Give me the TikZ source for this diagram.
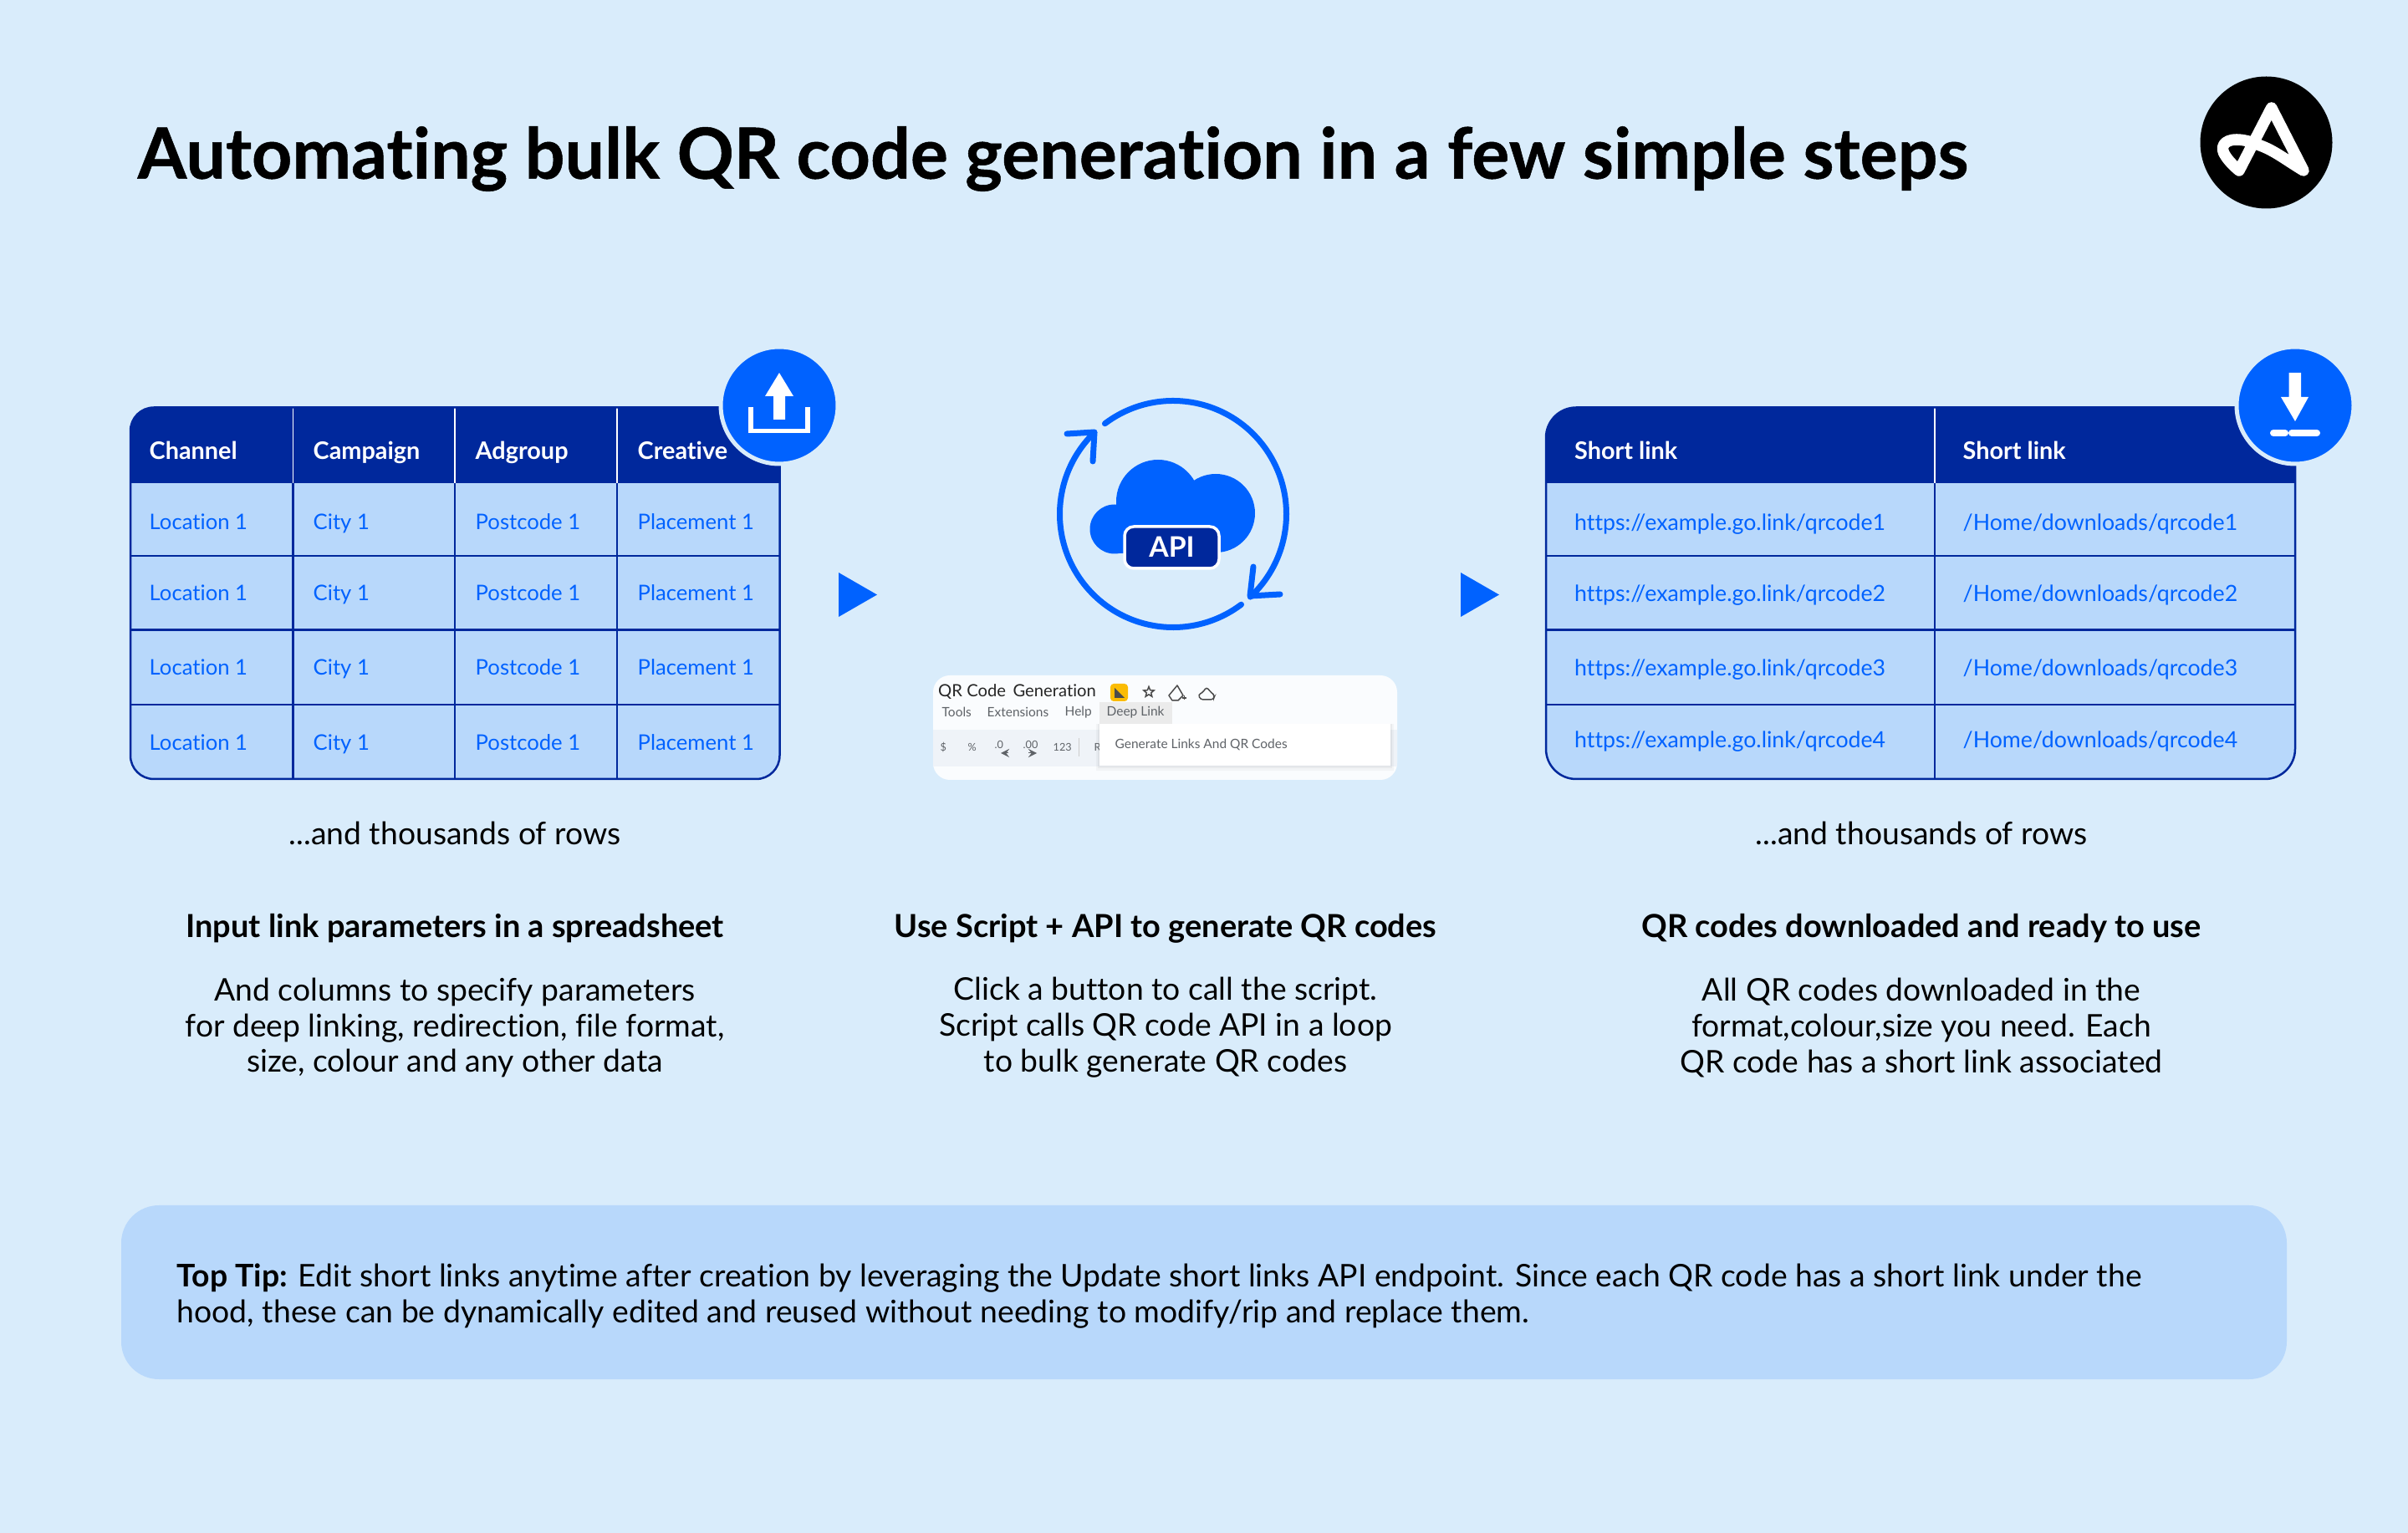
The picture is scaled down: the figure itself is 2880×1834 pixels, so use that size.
\documentclass[tikz,border=0pt]{standalone}
\usepackage{fontspec}
\setmainfont{Lato}[Ligatures=NoCommon]
\newfontfamily\headfont{Lato}[Ligatures=NoCommon,BoldFeatures={FakeBold=0.6}]
\usetikzlibrary{shapes.geometric}
\definecolor{mybg}{HTML}{D9ECFB}
\definecolor{mycell}{HTML}{B8D8FB}
\definecolor{mynavy}{HTML}{00289C}
\definecolor{myblue}{HTML}{0062FF}
\definecolor{mycard}{HTML}{FAFCFE}
\definecolor{mybar}{HTML}{EFF3F8}
\definecolor{mygrey}{HTML}{5F6368}
\definecolor{myyellow}{HTML}{FBBC04}

\begin{document}
\begin{tikzpicture}
    [x=0.01cm,y=-0.01cm,
     hdr/.style={anchor=west,text=white,font=\fontsize{8.2}{9}\selectfont\bfseries,inner sep=0,text height=7pt,text depth=1.5pt},
     cell/.style={anchor=west,text=myblue,font=\fontsize{7.3}{9}\selectfont,inner sep=0,text height=6.5pt,text depth=1.5pt},
     link/.style={cell,font=\fontsize{7.6}{9}\selectfont},
     txt/.style={align=center,text=black,font=\fontsize{10.6}{12.2}\selectfont,inner sep=0},
     sub/.style={align=center,text=black,font=\fontsize{10.8}{12.2}\selectfont\bfseries,inner sep=0},
     menu/.style={anchor=west,text=mygrey,font=\fontsize{4.4}{5}\selectfont,inner sep=0},
     tiny/.style={menu,font=\fontsize{3.6}{4}\selectfont},
     gridline/.style={mynavy,line width=0.025cm},
     headline/.style={white,line width=0.015cm},
     badge/.style={myblue,draw=mybg,line width=0.05cm}]

    \useasboundingbox (0,0) rectangle (2880,1834);
    \fill[mybg] (0,0) rectangle (2880,1834);

    \node[anchor=west,inner sep=0,text=black,font=\headfont\fontsize{23.98}{26}\selectfont\bfseries] (title) at (164,190)
        {Automating bulk QR code generation in a few simple steps};

    % logo
    \fill[black] (2710.5,170.5) circle (79);
    \draw[white,line width=0.135cm,line join=round,line cap=round]
        (2716.7,129) -- (2755,204) .. controls (2735,192) and (2720,180) .. (2703,174)
        .. controls (2692,169) and (2682,167) .. (2675,167)
        .. controls (2660,167) and (2654,176) .. (2662,187)
        .. controls (2666,193) and (2672,199) .. (2678,204) -- cycle;

    % left table
    \begin{scope}
        \clip[rounded corners=0.28cm] (156,487.5) rectangle (932.5,932);
        \fill[mycell] (156,487.5) rectangle (932.5,932);
        \fill[mynavy] (156,487.5) rectangle (932.5,578);
        \draw[headline] (350.4,487.5) -- (350.4,578);
        \draw[headline] (544,487.5) -- (544,578);
        \draw[headline] (738,487.5) -- (738,578);
        \draw[gridline] (350.4,578) -- (350.4,932);
        \draw[gridline] (544,578) -- (544,932);
        \draw[gridline] (738,578) -- (738,932);
        \draw[gridline] (156,665) -- (932.5,665);
        \draw[gridline] (156,753.6) -- (932.5,753.6);
        \draw[gridline] (156,843) -- (932.5,843);
    \end{scope}
    \draw[gridline,rounded corners=0.28cm] (156,487.5) rectangle (932.5,932);

    \node[hdr] (chan) at (178,539.5) {Channel};
    \node[hdr] (camp) at (374,539.5) {Campaign};
    \node[hdr] (adgr) at (568,539.5) {Adgroup};
    \node[hdr] (crea) at (762,539.5) {Creative};

    \node[cell] (loc1) at (178,625) {Location 1};
    \node[cell] (cit1) at (374,625) {City 1};
    \node[cell] (pos1) at (568,625) {Postcode 1};
    \node[cell] (pla1) at (762,625) {Placement 1};
    \node[cell] (loc2) at (178,710) {Location 1};
    \node[cell] (cit2) at (374,710) {City 1};
    \node[cell] (pos2) at (568,710) {Postcode 1};
    \node[cell] (pla2) at (762,710) {Placement 1};
    \node[cell] (loc3) at (178,799) {Location 1};
    \node[cell] (cit3) at (374,799) {City 1};
    \node[cell] (pos3) at (568,799) {Postcode 1};
    \node[cell] (pla3) at (762,799) {Placement 1};
    \node[cell] (loc4) at (178,888.5) {Location 1};
    \node[cell] (cit4) at (374,888.5) {City 1};
    \node[cell] (pos4) at (568,888.5) {Postcode 1};
    \node[cell] (pla4) at (762,888.5) {Placement 1};

    % upload badge
    \filldraw[badge] (932,485) circle (70);
    \fill[white] (932,446) -- (949,474) -- (939,474) -- (939,502) -- (925,502) -- (925,474) -- (915,474) -- cycle;
    \draw[white,line width=0.055cm] (898,487.5) -- (898,515.5) -- (966,515.5) -- (966,487.5);

    % first play arrow
    \fill[myblue] (1003,685) -- (1049,711.5) -- (1003,738) -- cycle;

    % cloud and loop
    \draw[myblue,line width=0.07cm,line cap=round] (1403,615) ++(-127:135.5) arc (-127:47:135.5);
    \draw[myblue,line width=0.07cm,line cap=round] (1403,615) ++(53:135.5) arc (53:226:135.5);
    \draw[myblue,line width=0.07cm,line cap=round,line join=round] (1499,678) -- (1495,713) -- (1531,711);
    \draw[myblue,line width=0.07cm,line cap=round,line join=round] (1276,519) -- (1309,517) -- (1307,552);
    \fill[myblue] (1333,633) circle (29.5);
    \fill[myblue] (1385,600) circle (50);
    \fill[myblue] (1454,614) circle (47);
    \fill[myblue] (1333,620) rectangle (1460,662.5);
    \filldraw[fill=mynavy,draw=white,line width=0.035cm,rounded corners=0.11cm] (1345,630) rectangle (1458,680);
    \node[inner sep=0,text=white,font=\fontsize{9.6}{10}\selectfont\bfseries] (api) at (1401.5,654.5) {API};

    % sheet screenshot
    \fill[mycard,rounded corners=0.2cm] (1116,808) rectangle (1671,933);
    \fill[mybar] (1116,873) rectangle (1671,917);
    \fill[black!8] (1314.5,840) rectangle (1401.5,866);
    \fill[black,opacity=0.03] (1310.5,866) rectangle (1666.5,922);
    \fill[black,opacity=0.04] (1312.5,866) rectangle (1664.5,919);
    \fill[white] (1314.5,866) rectangle (1662.5,916);

    \node[anchor=west,inner sep=0,text=black!85,font=\fontsize{5.75}{7}\selectfont] (sheet) at (1121.5,828) {QR Code\, Generation};
    \node[menu] (tools) at (1126,852) {Tools};
    \node[menu] (exts) at (1180,852) {Extensions};
    \node[menu] (help) at (1273,852) {Help};
    \node[menu] (deep) at (1323,852) {Deep Link};
    \node[menu] (gen) at (1333,891) {Generate Links And QR Codes};
    \node[tiny] (dollar) at (1124,894) {\$};
    \node[tiny] (pct) at (1157,894) {\%};
    \node[tiny] (dec0) at (1189,891) {.0};
    \node[tiny] (dec1) at (1223,891) {.00};
    \node[tiny] (fmt) at (1259,894) {123};
    \node[tiny] (rome) at (1308,894) {R};
    \fill[white] (1314.5,880) rectangle (1320,905);
    \draw[black!20,line width=0.01cm] (1290,883) -- (1290,905);
    \draw[mygrey,line width=0.01cm,-stealth] (1206,901) -- (1197,901);
    \draw[mygrey,line width=0.01cm,-stealth] (1230,901) -- (1240,901);

    \fill[myyellow,rounded corners=0.04cm] (1328,818) rectangle (1349,839);
    \fill[black!70] (1333,823) -- (1345,835) -- (1333,835) -- cycle;
    \node[star,star points=5,star point ratio=2.3,draw=black!70,line width=0.015cm,minimum size=0.13cm,inner sep=0] (fav) at (1374,828) {};
    \draw[black!70,line width=0.015cm,line join=round] (1408,820) -- (1415,832) -- (1409,838) -- (1402,838) -- (1398,832) -- cycle;
    \draw[black!70,line width=0.015cm] (1414,835) -- (1419,835) (1416.5,832.5) -- (1416.5,837.5);
    \draw[black!70,line width=0.015cm,rounded corners=0.03cm] (1436,837) -- (1433,831) -- (1438,829) -- (1443,822) -- (1449,829) -- (1453,832) -- (1451,837) -- cycle;

    % second play arrow
    \fill[myblue] (1747,685) -- (1793,711.5) -- (1747,738) -- cycle;

    % right table
    \begin{scope}
        \clip[rounded corners=0.36cm] (1849,487.5) rectangle (2745,932);
        \fill[mycell] (1849,487.5) rectangle (2745,932);
        \fill[mynavy] (1849,487.5) rectangle (2745,578);
        \draw[headline] (2314,487.5) -- (2314,578);
        \draw[gridline] (2314,578) -- (2314,932);
        \draw[gridline] (1849,665) -- (2745,665);
        \draw[gridline] (1849,753.6) -- (2745,753.6);
        \draw[gridline] (1849,843) -- (2745,843);
    \end{scope}
    \draw[gridline,rounded corners=0.36cm] (1849,487.5) rectangle (2745,932);

    \node[hdr] (shrt) at (1882.5,539.5) {Short link};
    \node[hdr] (path) at (2347,539.5) {Short link};

    \node[link] (url1) at (1882.5,625.5) {https://example.go.link/qrcode1};
    \node[link] (dir1) at (2347,625.5) {/Home/downloads/qrcode1};
    \node[link] (url2) at (1882.5,710.5) {https://example.go.link/qrcode2};
    \node[link] (dir2) at (2347,710.5) {/Home/downloads/qrcode2};
    \node[link] (url3) at (1882.5,799.5) {https://example.go.link/qrcode3};
    \node[link] (dir3) at (2347,799.5) {/Home/downloads/qrcode3};
    \node[link] (url4) at (1882.5,886) {https://example.go.link/qrcode4};
    \node[link] (dir4) at (2347,886) {/Home/downloads/qrcode4};

    % download badge
    \filldraw[badge] (2745,485) circle (70);
    \fill[white] (2737.5,446) -- (2752,446) -- (2752,475) -- (2761,475) -- (2745,504) -- (2728,475) -- (2737.5,475) -- cycle;
    \draw[white,line width=0.08cm,line cap=round] (2719,518) -- (2733,518);
    \draw[white,line width=0.08cm,line cap=round] (2741,518) -- (2771,518);

    % captions
    \node[txt] (rows1) at (544,997) {...and thousands of rows};
    \node[txt] (rows3) at (2298,997) {...and thousands of rows};

    \node[sub] (sub1) at (544,1111) {Input link parameters in a spreadsheet};
    \node[sub] (sub2) at (1394,1111) {Use Script + API to generate QR codes};
    \node[sub] (sub3) at (2298,1111) {QR codes downloaded and ready to use};

    \node[txt] (body1) at (544,1229.5) {And columns to specify parameters\\for deep linking, redirection, file format,\\size, colour and any other data};
    \node[txt] (body2) at (1394,1229.5) {Click a button to call the script.\\Script calls QR code API in a loop\\to bulk generate QR codes};
    \node[txt] (body3) at (2298,1229.5) {All QR codes downloaded in the\\format,colour,size you need. Each\\QR code has a short link associated};

    % top tip
    \fill[mycell,rounded corners=0.45cm] (145,1442) rectangle (2735,1650);
    \node[txt,anchor=west,align=left,font=\fontsize{10.62}{12.2}\selectfont] (tip) at (211,1551)
        {\textbf{Top Tip:} Edit short links anytime after creation by leveraging the Update short links API endpoint. Since each QR code has a short link under the\\hood, these can be dynamically edited and reused without needing to modify/rip and replace them.};
\end{tikzpicture}
\end{document}
